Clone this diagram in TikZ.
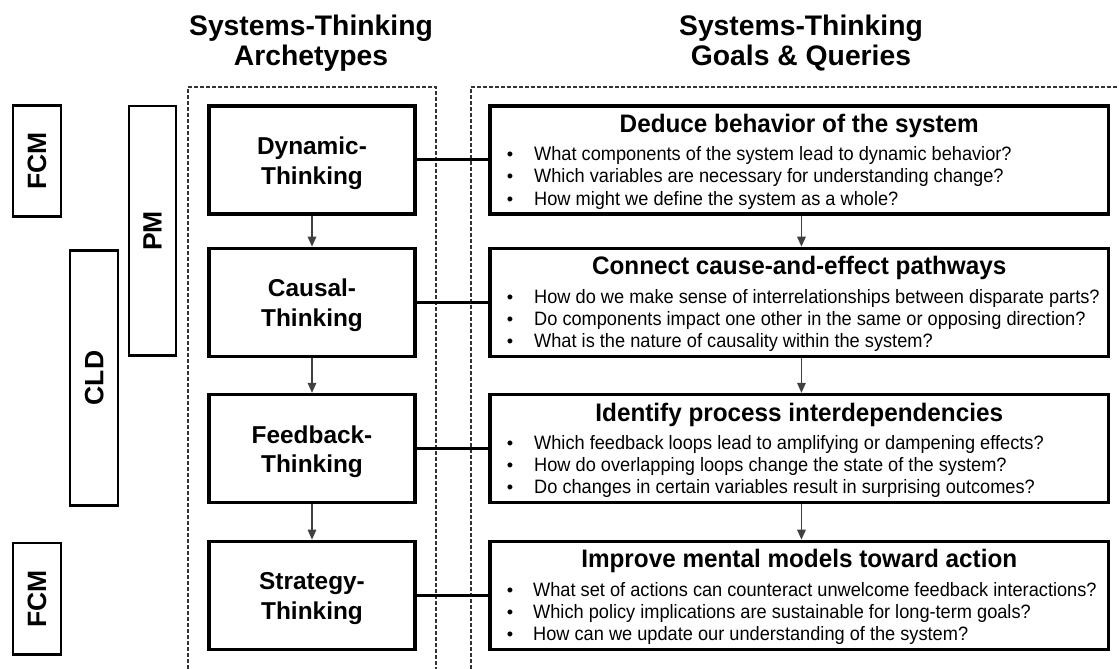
\documentclass[tikz,border=0pt]{standalone}
\usepackage{fontspec}
\setmainfont{Liberation Sans}
\newfontfamily\bltfont[FakeStretch=0.94]{Liberation Sans}
\newfontfamily\ttlfont[FakeStretch=0.96]{Liberation Sans}
\usetikzlibrary{arrows.meta}
\begin{document}
\begin{tikzpicture}[x=1bp,y=-1bp,
  archbox/.style={draw, line width=3.3bp, minimum width=206bp, minimum height=108bp, inner sep=0pt, outer sep=0pt},
  goalbox/.style={draw, line width=3.3bp, minimum width=618.5bp, minimum height=108bp, inner sep=0pt, outer sep=0pt},
  sidebox/.style={draw, line width=2.3bp, minimum width=48.4bp, inner sep=0pt, outer sep=0pt},
  dashline/.style={draw=black!80, line width=1.2bp, dash pattern=on 4bp off 2bp},
  conn/.style={line width=3bp},
  flow/.style={draw=black!75, line width=1.5bp, -{Triangle[length=10bp,width=8.5bp]}, shorten >=1.65bp},
  hdr/.style={font=\fontsize{28.3bp}{30bp}\selectfont\bfseries, anchor=base, inner sep=0pt},
  archtxt/.style={font=\fontsize{24.4bp}{29bp}\selectfont\bfseries, anchor=base, inner sep=0pt},
  ttl/.style={font=\ttlfont\fontsize{25.3bp}{29bp}\selectfont\bfseries, anchor=base, inner sep=0pt},
  blt/.style={font=\bltfont\fontsize{19.36bp}{22bp}\selectfont, anchor=base west, inner sep=0pt},
  bdot/.style={font=\fontsize{18.2bp}{22bp}\selectfont, anchor=base, inner sep=0pt},
  sidetxt/.style={font=\fontsize{26.5bp}{30bp}\selectfont\bfseries, rotate=90, inner sep=0pt}
]
\useasboundingbox (0,0) rectangle (1119,669);
\fill[white] (0,0) rectangle (1119,669);

% dashed frames
\draw[dashline] (188,669) -- (188,87) -- (436,87) -- (436,669);
\draw[dashline] (471,669) -- (471,87) -- (1119,87);

% headers
\node[hdr] (h1a) at (311,36) {Systems-Thinking};
\node[hdr] (h1b) at (311,65.5) {Archetypes};
\node[hdr] (h2a) at (801,36) {Systems-Thinking};
\node[hdr] (h2b) at (801,65.5) {Goals \& Queries};

% side boxes
\node[sidebox, minimum height=111bp] (fcm1) at (37,161) {};
\node[sidetxt] (fcm1t) at (fcm1.center) {FCM};
\node[sidebox, minimum width=47.4bp, minimum height=249.3bp] (pm) at (152.5,230.8) {};
\node[sidetxt] (pmt) at (pm.center) {PM};
\node[sidebox, minimum width=48bp, minimum height=255bp] (cld) at (94.2,378) {};
\node[sidetxt] (cldt) at (cld.center) {CLD};
\node[sidebox, minimum height=111.3bp] (fcm2) at (37,598.8) {};
\node[sidetxt] (fcm2t) at (fcm2.center) {FCM};

% archetype boxes
\node[archbox] (a1) at (312,160) {};
\node[archbox] (a2) at (312,302.3) {};
\node[archbox] (a3) at (312,448.5) {};
\node[archbox] (a4) at (312,595.3) {};
\node[archtxt] (a1x) at ([yshift=5.4bp]a1.center) {Dynamic-};
\node[archtxt] (a1y) at ([yshift=-24.3bp]a1.center) {Thinking};
\node[archtxt] (a2x) at ([yshift=5.4bp]a2.center) {Causal-};
\node[archtxt] (a2y) at ([yshift=-24.3bp]a2.center) {Thinking};
\node[archtxt] (a3x) at ([yshift=5.4bp]a3.center) {Feedback-};
\node[archtxt] (a3y) at ([yshift=-24.3bp]a3.center) {Thinking};
\node[archtxt] (a4x) at ([yshift=5.4bp]a4.center) {Strategy-};
\node[archtxt] (a4y) at ([yshift=-24.3bp]a4.center) {Thinking};

% goal boxes
\node[goalbox] (r1) at (799.25,160) {};
\node[goalbox] (r2) at (799.25,302.3) {};
\node[goalbox] (r3) at (799.25,448.5) {};
\node[goalbox] (r4) at (799.25,595.3) {};

\node[ttl] (r1t) at ([yshift=27.5bp]r1.center) {Deduce behavior of the system};
\node[bdot] (r1d1) at ([xshift=20bp,yshift=-1bp]r1.west) {•};
\node[bdot] (r1d2) at ([xshift=20bp,yshift=-23bp]r1.west) {•};
\node[bdot] (r1d3) at ([xshift=20bp,yshift=-45bp]r1.west) {•};
\node[blt] (r1b1) at ([xshift=44bp,yshift=-1bp]r1.west) {What components of the system lead to dynamic behavior?};
\node[blt] (r1b2) at ([xshift=44bp,yshift=-23bp]r1.west) {Which variables are necessary for understanding change?};
\node[blt] (r1b3) at ([xshift=44bp,yshift=-45bp]r1.west) {How might we define the system as a whole?};

\node[ttl] (r2t) at ([yshift=27.5bp]r2.center) {Connect cause-and-effect pathways};
\node[bdot] (r2d1) at ([xshift=20bp,yshift=-1bp]r2.west) {•};
\node[bdot] (r2d2) at ([xshift=20bp,yshift=-23bp]r2.west) {•};
\node[bdot] (r2d3) at ([xshift=20bp,yshift=-45bp]r2.west) {•};
\node[blt] (r2b1) at ([xshift=44bp,yshift=-1bp]r2.west) {How do we make sense of interrelationships between disparate parts?};
\node[blt] (r2b2) at ([xshift=44bp,yshift=-23bp]r2.west) {Do components impact one other in the same or opposing direction?};
\node[blt] (r2b3) at ([xshift=44bp,yshift=-45bp]r2.west) {What is the nature of causality within the system?};

\node[ttl] (r3t) at ([yshift=27.5bp]r3.center) {Identify process interdependencies};
\node[bdot] (r3d1) at ([xshift=20bp,yshift=-1bp]r3.west) {•};
\node[bdot] (r3d2) at ([xshift=20bp,yshift=-23bp]r3.west) {•};
\node[bdot] (r3d3) at ([xshift=20bp,yshift=-45bp]r3.west) {•};
\node[blt] (r3b1) at ([xshift=44bp,yshift=-1bp]r3.west) {Which feedback loops lead to amplifying or dampening effects?};
\node[blt] (r3b2) at ([xshift=44bp,yshift=-23bp]r3.west) {How do overlapping loops change the state of the system?};
\node[blt] (r3b3) at ([xshift=44bp,yshift=-45bp]r3.west) {Do changes in certain variables result in surprising outcomes?};

\node[ttl] (r4t) at ([yshift=27.5bp]r4.center) {Improve mental models toward action};
\node[bdot] (r4d1) at ([xshift=20bp,yshift=-1bp]r4.west) {•};
\node[bdot] (r4d2) at ([xshift=20bp,yshift=-23bp]r4.west) {•};
\node[bdot] (r4d3) at ([xshift=20bp,yshift=-45bp]r4.west) {•};
\node[blt] (r4b1) at ([xshift=43bp,yshift=-1bp]r4.west) {What set of actions can counteract unwelcome feedback interactions?};
\node[blt] (r4b2) at ([xshift=43bp,yshift=-23bp]r4.west) {Which policy implications are sustainable for long-term goals?};
\node[blt] (r4b3) at ([xshift=43bp,yshift=-45bp]r4.west) {How can we update our understanding of the system?};

% horizontal connectors
\draw[conn] (a1.east) -- (r1.west);
\draw[conn] (a2.east) -- (r2.west);
\draw[conn] (a3.east) -- (r3.west);
\draw[conn] (a4.east) -- (r4.west);

% vertical flow arrows
\draw[flow] ([yshift=-1.65bp]a1.south) -- (a2.north);
\draw[flow] ([yshift=-1.65bp]a2.south) -- (a3.north);
\draw[flow] ([yshift=-1.65bp]a3.south) -- (a4.north);
\draw[flow] ([xshift=2.2bp,yshift=-1.65bp]r1.south) -- ([xshift=2.2bp]r2.north);
\draw[flow] ([xshift=2.2bp,yshift=-1.65bp]r2.south) -- ([xshift=2.2bp]r3.north);
\draw[flow] ([xshift=2.2bp,yshift=-1.65bp]r3.south) -- ([xshift=2.2bp]r4.north);
\end{tikzpicture}
\end{document}
